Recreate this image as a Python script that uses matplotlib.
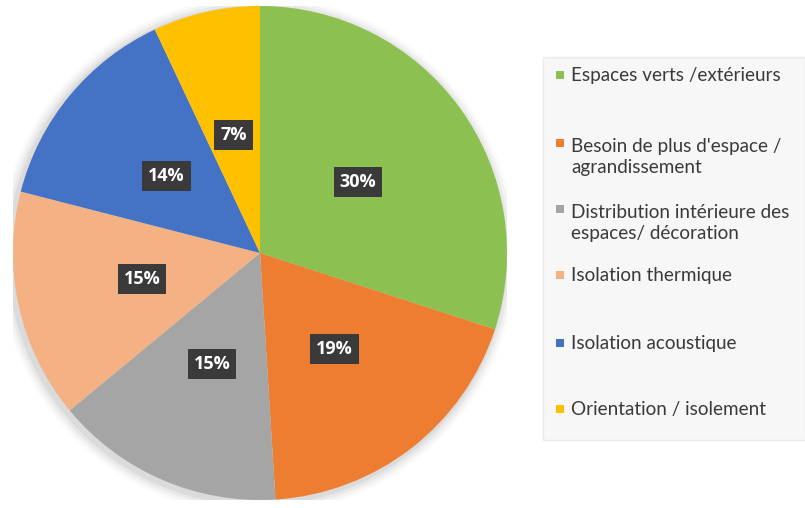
import matplotlib
matplotlib.use("Agg")
import matplotlib.pyplot as plt
from matplotlib.patches import Rectangle, Circle

categories = ["Espaces verts /extérieurs",
              "Besoin de plus d'espace /\nagrandissement",
              "Distribution intérieure des\nespaces/ décoration",
              "Isolation thermique",
              "Isolation acoustique",
              "Orientation / isolement"]
values = [30, 19, 15, 15, 14, 7]
colors = ["#8CC152", "#ED7D31", "#A5A5A5", "#F4B183", "#4472C4", "#FFC000"]

fig = plt.figure(figsize=(8.05, 5.08), dpi=100)
W, H = 805, 508
cx, cy, R = 260, 253, 247
ax = fig.add_axes([(cx - R) / W, (H - cy - R) / H, 2 * R / W, 2 * R / H])

# soft shadow
for i, a in enumerate([0.05, 0.04, 0.03, 0.02]):
    ax.add_patch(Circle((-0.01, -0.01), 1.0 + 0.012 * (i + 1), color="black", alpha=a, lw=0, zorder=0))

wedges, texts, autotexts = ax.pie(values, colors=colors, startangle=90, counterclock=False,
                                  radius=1.0, autopct="%d%%", pctdistance=0.49,
                                  wedgeprops=dict(linewidth=0),
                                  textprops=dict(color="white", fontsize=13, fontweight="bold",
                                                 family=["Open Sans", "DejaVu Sans"]))
for t in autotexts:
    t.set_bbox(dict(boxstyle="square,pad=0.33", facecolor="#3A3A3A", edgecolor="none"))
ax.set_aspect("auto")
ax.set_xlim(-1, 1)
ax.set_ylim(-1, 1)
ax.axis("off")

# legend box
lx0, ly0, lx1, ly1 = 543, 57, 805, 440
fig.patches.append(Rectangle((lx0 / W, 1 - ly1 / H), (lx1 - lx0) / W, (ly1 - ly0) / H,
                             transform=fig.transFigure, facecolor="#F7F7F7",
                             edgecolor="#EBEBEB", lw=1, zorder=0))
row_y = [75, 157, 223, 275, 343, 409]
for lab, col, y in zip(categories, colors, row_y):
    nlines = lab.count("\n") + 1
    first_y = y - (nlines - 1) * 13.5
    fig.patches.append(Rectangle((556 / W, 1 - (first_y + 4) / H), 8 / W, 8 / H,
                                 transform=fig.transFigure, facecolor=col, edgecolor="none"))
    fig.text(571 / W, 1 - y / H, lab, ha="left", va="center", fontsize=13.6,
             color="#3A3A3A", family=["Lato", "DejaVu Sans"], linespacing=1.25)

fig.savefig("out.png", dpi=100)
